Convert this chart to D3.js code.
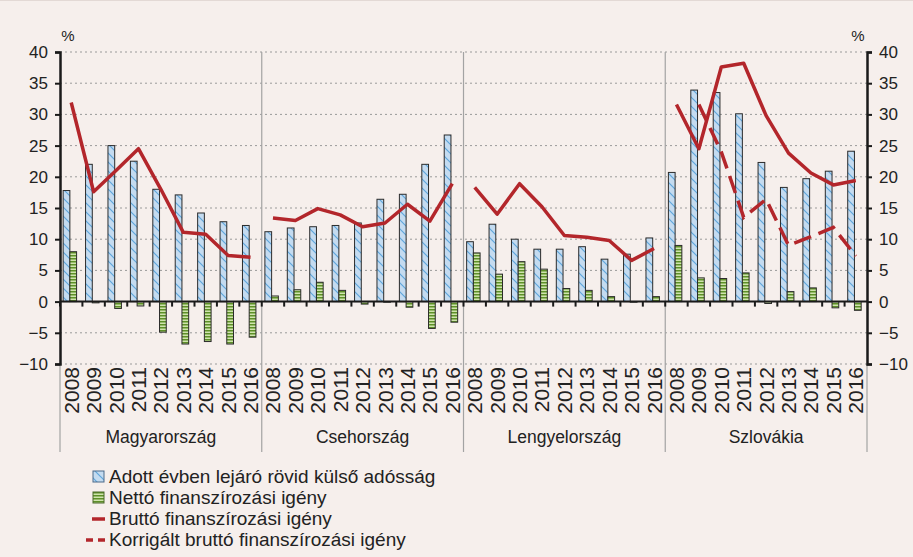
<!DOCTYPE html>
<html>
<head>
<meta charset="utf-8">
<script src="https://cdn.jsdelivr.net/npm/d3@7"></script>
<style>
  body { margin: 0; background: #f6efec; }
  svg { display: block; font-family: "Liberation Sans", Arial, sans-serif; }
</style>
</head>
<body>
<div id="chart"></div>
<script>
const countries = ['Magyarország', 'Csehország', 'Lengyelország', 'Szlovákia'];
const years = ['2008', '2009', '2010', '2011', '2012', '2013', '2014', '2015', '2016'];
const yTicks = [-10, -5, 0, 5, 10, 15, 20, 25, 30, 35, 40];

// Adott évben lejáró rövid külső adósság
const shortDebt = [
    [17.8, 22.0, 25.0, 22.5, 18.0, 17.1, 14.2, 12.8, 12.2],
    [11.2, 11.8, 12.0, 12.2, 12.6, 16.4, 17.2, 22.0, 26.7],
    [9.6, 12.4, 10.0, 8.4, 8.4, 8.8, 6.8, 7.6, 10.2],
    [20.7, 33.9, 33.5, 30.1, 22.3, 18.3, 19.7, 20.9, 24.1]
];
// Nettó finanszírozási igény
const netNeed = [
    [8.0, -0.2, -1.1, -0.7, -4.9, -6.8, -6.4, -6.8, -5.7],
    [0.9, 1.9, 3.1, 1.8, -0.4, -0.1, -0.9, -4.3, -3.3],
    [7.8, 4.4, 6.4, 5.2, 2.1, 1.8, 0.8, -0.1, 0.8],
    [9.0, 3.8, 3.7, 4.6, -0.3, 1.6, 2.2, -1.0, -1.4]
];
// Bruttó finanszírozási igény
const grossNeed = [
    [31.9, 17.6, 21.0, 24.5, 18.0, 11.1, 10.8, 7.4, 7.1],
    [13.4, 13.0, 14.9, 13.9, 12.0, 12.6, 15.6, 12.9, 18.9],
    [18.3, 14.0, 18.9, 15.2, 10.6, 10.3, 9.8, 6.6, 8.5],
    [31.6, 24.5, 37.6, 38.2, 29.8, 23.8, 20.6, 18.7, 19.4]
];
// Korrigált bruttó finanszírozási igény (csak Szlovákia)
const grossAdjSk = [null, 31.6, 24.0, 13.5, 16.4, 9.0, 10.4, 11.9, 7.3];

const legendLabels = [
    'Adott évben lejáró rövid külső adósság',
    'Nettó finanszírozási igény',
    'Bruttó finanszírozási igény',
    'Korrigált bruttó finanszírozási igény'
];

const width = 913, height = 557;
const margin = { left: 60, right: 46, top: 52, bottom: 193 };
const red = '#b3262b';

const svg = d3.select('#chart').append('svg')
    .attr('width', width)
    .attr('height', height);

svg.append('rect').attr('width', width).attr('height', height).attr('fill', '#f6efec');
svg.append('line').attr('x1', 0).attr('x2', width).attr('y1', 0.5).attr('y2', 0.5)
    .attr('stroke', '#e3d9d5');

// patterns
const defs = svg.append('defs');
const hatch = defs.append('pattern')
    .attr('id', 'hatch')
    .attr('patternUnits', 'userSpaceOnUse')
    .attr('width', 9).attr('height', 9);
hatch.append('rect').attr('width', 9).attr('height', 9).attr('fill', '#c4dbf0');
hatch.append('path').attr('d', 'M-2,-2 L11,11 M-2,7 L2,11 M7,-2 L11,2')
    .attr('stroke', '#5fa6dc').attr('stroke-width', 1.2);

const stripes = defs.append('pattern')
    .attr('id', 'stripes')
    .attr('patternUnits', 'userSpaceOnUse')
    .attr('width', 4).attr('height', 3);
stripes.append('rect').attr('width', 4).attr('height', 3).attr('fill', '#cfe4ad');
stripes.append('rect').attr('width', 4).attr('height', 1.5).attr('fill', '#5e9028');

// scales
const keys = [];
countries.forEach(c => years.forEach(y => keys.push(c + '|' + y)));

const x = d3.scaleBand()
    .domain(keys)
    .range([margin.left, width - margin.right])
    .padding(0);

const sub = d3.scaleBand()
    .domain(['debt', 'net'])
    .range([x.bandwidth() * 0.14, x.bandwidth() * 0.74]);

const y = d3.scaleLinear()
    .domain([-10, 40])
    .range([height - margin.bottom, margin.top]);

const x0 = margin.left, x1 = width - margin.right;

// grid
svg.append('g')
    .selectAll('line')
    .data(yTicks.filter(d => d !== 0))
    .enter().append('line')
        .attr('x1', x0).attr('x2', x1)
        .attr('y1', d => y(d)).attr('y2', d => y(d))
        .attr('stroke', '#9a9a9a')
        .attr('stroke-width', 1)
        .attr('stroke-dasharray', '2,3');

// panel separators
const panelEdges = countries.map((c, i) => x(c + '|2008'));
panelEdges.push(x1);
svg.append('g')
    .selectAll('line')
    .data(panelEdges)
    .enter().append('line')
        .attr('x1', d => d).attr('x2', d => d)
        .attr('y1', (d, i) => (i === 0 || i === panelEdges.length - 1) ? y(-10) : y(40))
        .attr('y2', 452)
        .attr('stroke', '#a3a3a3')
        .attr('stroke-width', 1.2);

// flatten data
const flat = [];
countries.forEach((c, ci) => years.forEach((yr, yi) => {
    flat.push({ key: c + '|' + yr, debt: shortDebt[ci][yi], net: netNeed[ci][yi] });
}));

// bars
svg.append('g')
    .selectAll('rect')
    .data(flat)
    .enter().append('rect')
        .attr('x', d => x(d.key) + sub('debt'))
        .attr('width', sub.bandwidth())
        .attr('y', d => y(Math.max(0, d.debt)))
        .attr('height', d => Math.abs(y(d.debt) - y(0)))
        .attr('fill', 'url(#hatch)')
        .attr('stroke', '#2b2b2b')
        .attr('stroke-width', 1);

svg.append('g')
    .selectAll('rect')
    .data(flat)
    .enter().append('rect')
        .attr('x', d => x(d.key) + sub('net'))
        .attr('width', sub.bandwidth())
        .attr('y', d => y(Math.max(0, d.net)))
        .attr('height', d => Math.abs(y(d.net) - y(0)))
        .attr('fill', 'url(#stripes)')
        .attr('stroke', '#2b2b2b')
        .attr('stroke-width', 1);

// zero line and category ticks
svg.append('line')
    .attr('x1', x0).attr('x2', x1)
    .attr('y1', y(0)).attr('y2', y(0))
    .attr('stroke', '#1a1a1a').attr('stroke-width', 2);

svg.append('g')
    .selectAll('line')
    .data(keys)
    .enter().append('line')
        .attr('x1', d => x(d)).attr('x2', d => x(d))
        .attr('y1', y(0)).attr('y2', y(0) + 5)
        .attr('stroke', '#1a1a1a').attr('stroke-width', 2);

// lines
const lineGen = d3.line()
    .defined(d => d.v !== null)
    .x(d => x(d.key) + x.bandwidth() / 2)
    .y(d => y(d.v));

countries.forEach((c, ci) => {
    const pts = years.map((yr, yi) => ({ key: c + '|' + yr, v: grossNeed[ci][yi] }));
    svg.append('path')
        .datum(pts)
        .attr('d', lineGen)
        .attr('fill', 'none')
        .attr('stroke', red)
        .attr('stroke-width', 3.5)
        .attr('stroke-linejoin', 'round');
});

svg.append('path')
    .datum(years.map((yr, yi) => ({ key: 'Szlovákia|' + yr, v: grossAdjSk[yi] })))
    .attr('d', lineGen)
    .attr('fill', 'none')
    .attr('stroke', red)
    .attr('stroke-width', 3.5)
    .attr('stroke-dasharray', '18,8');

// axes
const leftAxis = svg.append('g')
    .attr('transform', `translate(${x0},0)`)
    .call(d3.axisLeft(y).tickValues(yTicks).tickSize(5).tickPadding(7)
        .tickFormat(d => d < 0 ? '\u2212' + Math.abs(d) : d));
const rightAxis = svg.append('g')
    .attr('transform', `translate(${x1},0)`)
    .call(d3.axisRight(y).tickValues(yTicks).tickSize(5).tickPadding(7)
        .tickFormat(d => d < 0 ? '\u2212' + Math.abs(d) : d));

[leftAxis, rightAxis].forEach(a => {
    a.select('.domain').attr('stroke', '#1a1a1a').attr('stroke-width', 2.5);
    a.selectAll('.tick line').attr('stroke', '#1a1a1a').attr('stroke-width', 2);
    a.selectAll('.tick text').attr('font-size', 17).attr('fill', '#222')
        .attr('font-family', '"Liberation Sans", Arial, sans-serif');
});

svg.append('text').attr('x', 68).attr('y', 41).attr('font-size', 15).attr('fill', '#222')
    .attr('text-anchor', 'middle').text('%');
svg.append('text').attr('x', 858).attr('y', 41).attr('font-size', 15).attr('fill', '#222')
    .attr('text-anchor', 'middle').text('%');

// year labels
svg.append('g')
    .selectAll('text')
    .data(keys)
    .enter().append('text')
        .attr('transform', d => `translate(${x(d) + x.bandwidth() / 2 + 7.5},${y(-10) + 3}) rotate(-90)`)
        .attr('text-anchor', 'end')
        .attr('font-size', 21)
        .attr('fill', '#222')
        .text(d => d.split('|')[1]);

// country labels
svg.append('g')
    .selectAll('text')
    .data(countries)
    .enter().append('text')
        .attr('x', (d, i) => (panelEdges[i] + panelEdges[i + 1]) / 2)
        .attr('y', 443)
        .attr('text-anchor', 'middle')
        .attr('font-size', 17.5)
        .attr('fill', '#222')
        .text(d => d);

// legend
const legend = svg.append('g').attr('transform', 'translate(92,0)');
const rowY = [477, 498, 519, 540];

legend.append('rect').attr('x', 1).attr('y', rowY[0] - 6).attr('width', 11).attr('height', 11)
    .attr('fill', 'url(#hatch)').attr('stroke', '#4a6a8a').attr('stroke-width', 1);
legend.append('rect').attr('x', 1).attr('y', rowY[1] - 6).attr('width', 11).attr('height', 11)
    .attr('fill', 'url(#stripes)').attr('stroke', '#4a6a2a').attr('stroke-width', 1);
legend.append('line').attr('x1', 0).attr('x2', 13).attr('y1', rowY[2]).attr('y2', rowY[2])
    .attr('stroke', red).attr('stroke-width', 3.5);
legend.append('line').attr('x1', -6).attr('x2', 13).attr('y1', rowY[3]).attr('y2', rowY[3])
    .attr('stroke', red).attr('stroke-width', 3.5).attr('stroke-dasharray', '7,5');

legend.selectAll('.legend-text')
    .data(legendLabels)
    .enter().append('text')
        .attr('class', 'legend-text')
        .attr('x', 17)
        .attr('y', (d, i) => rowY[i] + 6)
        .attr('font-size', 19)
        .attr('fill', '#222')
        .text(d => d);
</script>
</body>
</html>
